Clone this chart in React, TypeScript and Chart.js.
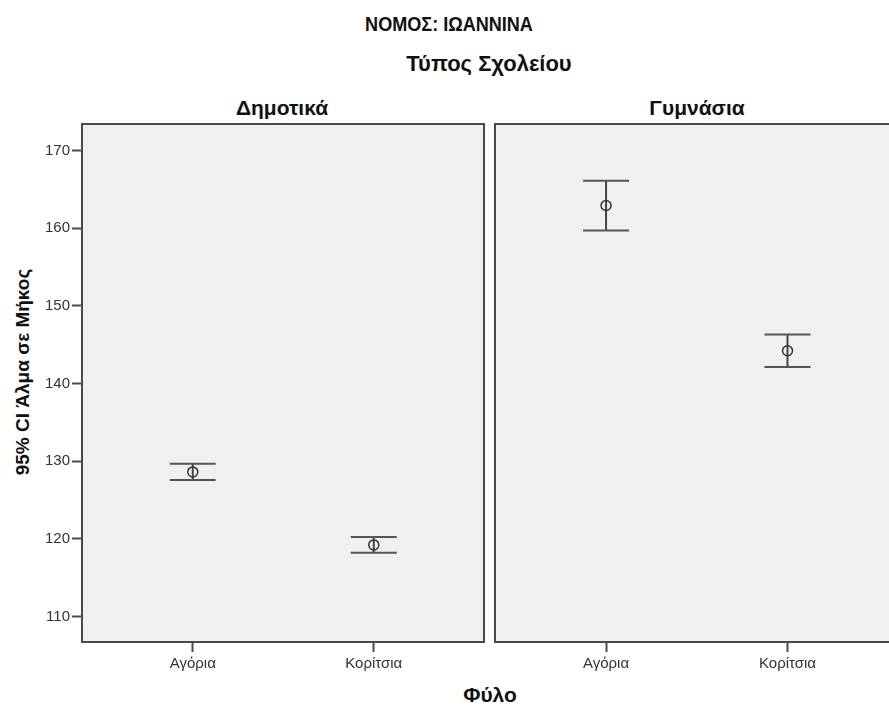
import React, { useEffect, useRef } from "react";
import { Chart, registerables } from "chart.js";

Chart.register(...registerables);

// ---- data ----
const mainTitle = "ΝΟΜΟΣ: ΙΩΑΝΝΙΝΑ";
const groupTitle = "Τύπος Σχολείου";
const panelTitles = ["Δημοτικά", "Γυμνάσια"];
const categories = ["Αγόρια", "Κορίτσια"];
const xTitle = "Φύλο";
const yTitle = "95% CI Άλμα σε Μήκος";
const yTicks = [110, 120, 130, 140, 150, 160, 170];

const dimMean = [128.6, 119.2];
const dimLow = [127.55, 118.2];
const dimHigh = [129.65, 120.22];

const gymMean = [162.9, 144.2];
const gymLow = [159.7, 142.1];
const gymHigh = [166.1, 146.3];

const Y_MIN = 106.7;
const Y_MAX = 173.4;
const X_MIN = -0.612;
const X_MAX = 1.609;

const FONT = "'Liberation Sans', Arial, sans-serif";

const framePlugin = {
  id: "frame",
  beforeDraw(chart: any) {
    const { ctx, chartArea: a } = chart;
    ctx.save();
    ctx.fillStyle = "#f0f0f0";
    ctx.fillRect(a.left, a.top, a.right - a.left, a.bottom - a.top);
    ctx.restore();
  },
  afterDraw(chart: any) {
    const { ctx, chartArea: a } = chart;
    ctx.save();
    ctx.strokeStyle = "#4a4a4a";
    ctx.lineWidth = 2;
    ctx.strokeRect(a.left, a.top, a.right - a.left, a.bottom - a.top);
    ctx.restore();
  },
};

function buildDatasets(mean: number[], low: number[], high: number[]) {
  const ds: any[] = [];
  ds.push({
    type: "scatter",
    data: mean.map((m, i) => ({ x: i, y: m })),
    pointStyle: "circle",
    pointRadius: 5,
    borderWidth: 1.5,
    borderColor: "#333333",
    backgroundColor: "rgba(0,0,0,0)",
  });
  ds.push({
    type: "scatter",
    data: [
      ...low.map((v, i) => ({ x: i, y: v })),
      ...high.map((v, i) => ({ x: i, y: v })),
    ],
    pointStyle: "line",
    pointRadius: 23,
    borderWidth: 2,
    borderColor: "#555555",
    backgroundColor: "#555555",
  });
  categories.forEach((_, i) => {
    ds.push({
      type: "line",
      data: [
        { x: i, y: low[i] },
        { x: i, y: high[i] },
      ],
      borderColor: "#444444",
      borderWidth: 2,
      pointRadius: 0,
      fill: false,
    });
  });
  return ds;
}

function zeroPad(scale: any) {
  scale.paddingLeft = 0;
  scale.paddingRight = 0;
  scale.paddingTop = 0;
  scale.paddingBottom = 0;
}

function makeConfig(mean: number[], low: number[], high: number[], showY: boolean, padLeft: number) {
  return {
    type: "scatter",
    data: { datasets: buildDatasets(mean, low, high) },
    plugins: [framePlugin],
    options: {
      animation: false,
      responsive: false,
      events: [],
      layout: { autoPadding: false, padding: { top: 6, right: 6, left: padLeft, bottom: 0 } },
      plugins: { legend: { display: false }, tooltip: { enabled: false } },
      scales: {
        x: {
          type: "linear",
          min: X_MIN,
          max: X_MAX,
          afterFit(scale: any) {
            scale.height = 56;
            zeroPad(scale);
          },
          afterBuildTicks(scale: any) {
            scale.ticks = categories.map((_, i) => ({ value: i }));
          },
          grid: {
            drawOnChartArea: false,
            drawTicks: true,
            tickLength: 10,
            tickWidth: 2,
            tickColor: "#4a4a4a",
          },
          border: { display: false },
          ticks: {
            autoSkip: false,
            maxRotation: 0,
            padding: 3,
            color: "#333333",
            font: { family: FONT, size: 15 },
            callback: (v: any) => categories[v] ?? "",
          },
        },
        y: {
          type: "linear",
          display: showY,
          min: Y_MIN,
          max: Y_MAX,
          afterFit(scale: any) {
            if (showY) scale.width = 82;
            zeroPad(scale);
          },
          afterBuildTicks(scale: any) {
            scale.ticks = yTicks.map((v) => ({ value: v }));
          },
          grid: {
            drawOnChartArea: false,
            drawTicks: true,
            tickLength: 10,
            tickWidth: 2,
            tickColor: "#4a4a4a",
          },
          border: { display: false },
          ticks: {
            padding: 2,
            color: "#333333",
            font: { family: FONT, size: 15 },
          },
        },
      },
    },
  } as any;
}

const textBase: React.CSSProperties = {
  position: "absolute",
  fontFamily: FONT,
  fontWeight: "bold",
  color: "#111",
  whiteSpace: "nowrap",
  textAlign: "center",
  lineHeight: "24px",
  height: 24,
};

export default function App() {
  const leftRef = useRef<HTMLCanvasElement>(null);
  const rightRef = useRef<HTMLCanvasElement>(null);

  useEffect(() => {
    const c1 = new Chart(leftRef.current as HTMLCanvasElement, makeConfig(dimMean, dimLow, dimHigh, true, 0));
    const c2 = new Chart(rightRef.current as HTMLCanvasElement, makeConfig(gymMean, gymLow, gymHigh, false, 6));
    return () => {
      c1.destroy();
      c2.destroy();
    };
  }, []);

  return (
    <div
      style={{
        position: "fixed",
        left: 0,
        top: 0,
        width: 889,
        height: 706,
        overflow: "hidden",
        background: "#ffffff",
      }}
    >
      <div style={{ ...textBase, left: 349, width: 200, top: 12, fontSize: 21, transform: "scaleX(0.86)" }}>{mainTitle}</div>
      <div style={{ ...textBase, left: 389, width: 200, top: 52, fontSize: 22 }}>{groupTitle}</div>
      <div style={{ ...textBase, left: 182, width: 200, top: 96, fontSize: 21 }}>{panelTitles[0]}</div>
      <div style={{ ...textBase, left: 597, width: 200, top: 96, fontSize: 21 }}>{panelTitles[1]}</div>
      <div style={{ ...textBase, left: 390, width: 200, top: 683, fontSize: 21 }}>{xTitle}</div>
      <div
        style={{
          ...textBase,
          left: 23 - 150,
          width: 300,
          top: 372 - 12,
          fontSize: 19,
          transform: "rotate(-90deg)",
          transformOrigin: "50% 50%",
        }}
      >
        {yTitle}
      </div>
      <canvas ref={leftRef} width={490} height={580} style={{ position: "absolute", left: 0, top: 118 }} />
      <canvas ref={rightRef} width={415} height={580} style={{ position: "absolute", left: 489, top: 118 }} />
    </div>
  );
}
